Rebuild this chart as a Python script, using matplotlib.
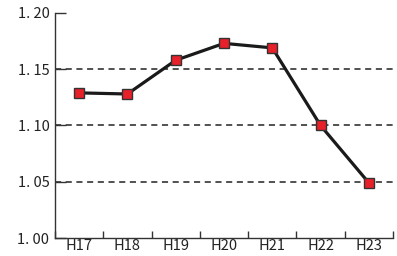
import matplotlib
matplotlib.use("Agg")
import matplotlib.pyplot as plt

years = ["H17", "H18", "H19", "H20", "H21", "H22", "H23"]
values = [1.129, 1.128, 1.158, 1.173, 1.169, 1.100, 1.049]
y_ticks = [1.00, 1.05, 1.10, 1.15, 1.20]
grid_levels = [1.05, 1.10, 1.15]

plt.rcParams['font.family'] = ['Noto Sans CJK JP', 'DejaVu Sans']

fig = plt.figure(figsize=(3.97, 2.56), dpi=100)
ax = fig.add_axes([55 / 397, 18 / 256, 338 / 397, 225 / 256])

x = list(range(len(years)))
for g in grid_levels:
    ax.axhline(g, color='#222222', linestyle=(0, (4, 3)), linewidth=1.1, zorder=1)

ax.plot(x, values, color='#1a1a1a', linewidth=2.3, zorder=2,
        marker='s', markersize=7.5, markerfacecolor='#e8202a',
        markeredgecolor='#333333', markeredgewidth=1.0)

ax.set_xlim(-0.5, len(years) - 0.5)
ax.set_ylim(1.00, 1.20)
ax.set_yticks(y_ticks)
ax.set_yticklabels([f"{v:.2f}".replace(".", ". ") for v in y_ticks], fontsize=10.5, color='#222222')

ax.set_xticks([i - 0.5 for i in range(len(years) + 1)], minor=False)
ax.set_xticklabels([])
ax.set_xticks(x, minor=True)
ax.set_xticklabels(years, minor=True, fontsize=10.5, color='#222222')
ax.tick_params(axis='x', which='major', direction='in', length=5, width=1, color='#333333')
ax.tick_params(axis='x', which='minor', length=0, pad=0.5)
ax.tick_params(axis='y', direction='in', length=8, width=1, color='#333333', pad=4)

for s in ['top', 'right']:
    ax.spines[s].set_visible(False)
for s in ['left', 'bottom']:
    ax.spines[s].set_color('#333333')
    ax.spines[s].set_linewidth(1.0)

plt.savefig("out.png", dpi=100)
